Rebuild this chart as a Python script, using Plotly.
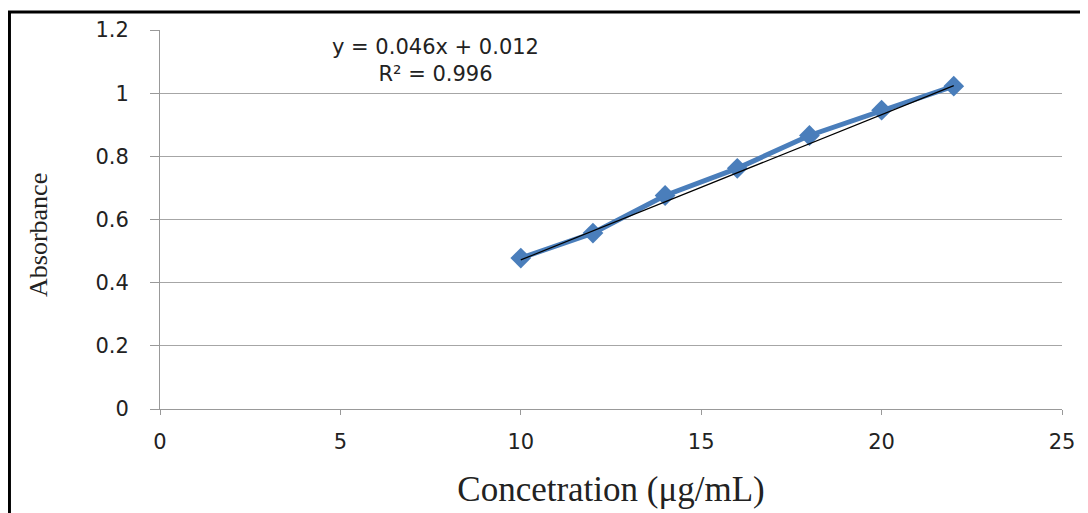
import plotly.graph_objects as go

conc = [10, 12, 14, 16, 18, 20, 22]
absorbance = [0.478, 0.557, 0.676, 0.762, 0.866, 0.946, 1.022]
slope, intercept = 0.046, 0.012
trend_x = [10, 22]
trend_y = [slope * v + intercept for v in trend_x]

x_ticks = [0, 5, 10, 15, 20, 25]
y_ticks = [0, 0.2, 0.4, 0.6, 0.8, 1.0, 1.2]
y_tick_text = ["0", "0.2", "0.4", "0.6", "0.8", "1", "1.2"]

fig = go.Figure()
fig.add_trace(go.Scatter(x=conc, y=absorbance, mode="lines+markers",
                         line=dict(color="#4A7EBB", width=5),
                         marker=dict(symbol="diamond", size=16, color="#4A7EBB"),
                         showlegend=False))
fig.add_trace(go.Scatter(x=trend_x, y=trend_y, mode="lines",
                         line=dict(color="black", width=1.2), showlegend=False))

fig.add_annotation(x=0.305, y=0.9195, xref="paper", yref="paper",
                   text="y = 0.046x + 0.012<br>R² = 0.996", showarrow=False,
                   font=dict(family="DejaVu Sans", size=21, color="#222"),
                   align="center", xanchor="center", yanchor="middle")

fig.add_annotation(x=-0.1353, y=0.459, xref="paper", yref="paper",
                   text="Absorbance", showarrow=False, textangle=-90,
                   font=dict(family="Liberation Serif", size=26, color="#222"),
                   xanchor="center", yanchor="middle")

fig.add_shape(type="rect", xref="paper", yref="paper",
              x0=-0.1669, x1=1.04, y0=-0.3, y1=1.0475,
              line=dict(color="black", width=3), layer="above")

fig.update_layout(
    width=1080, height=505,
    margin=dict(l=152, r=26, t=22, b=104),
    plot_bgcolor="white", paper_bgcolor="white",
    font=dict(family="DejaVu Sans", size=21, color="#222"),
    xaxis=dict(range=[0, 25], tickvals=x_ticks, showgrid=False,
               showline=True, linecolor="#999", linewidth=1,
               ticks="outside", ticklen=5, tickcolor="#999",
               ticklabelstandoff=9, zeroline=False, automargin=False,
               title=dict(text="Concetration (μg/mL)", standoff=23,
                          font=dict(family="Liberation Serif", size=35, color="#222"))),
    yaxis=dict(range=[0, 1.2], tickvals=y_ticks, ticktext=y_tick_text,
               showgrid=True, gridcolor="#a6a6a6", gridwidth=1,
               showline=True, linecolor="#999", linewidth=1,
               ticks="outside", ticklen=9, tickcolor="#999",
               ticklabelstandoff=17, zeroline=False, automargin=False),
)

fig.write_html("out.html")
